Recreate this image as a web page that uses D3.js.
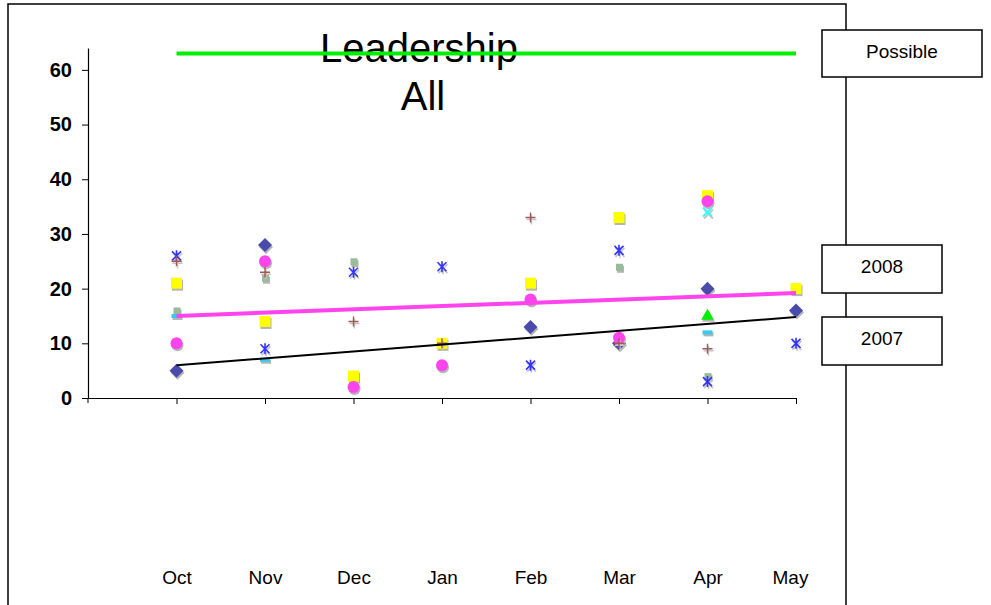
<!DOCTYPE html>
<html>
<head>
<meta charset="utf-8">
<script src="https://cdn.jsdelivr.net/npm/d3@7"></script>
<style>
  body { margin: 0; background: #fff; }
  text { font-family: "Liberation Sans", Arial, sans-serif; }
</style>
</head>
<body>
<svg id="chart" width="991" height="605"></svg>
<script>
// data
let months = ['Oct', 'Nov', 'Dec', 'Jan', 'Feb', 'Mar', 'Apr', 'May'];
let yTicks = [0, 10, 20, 30, 40, 50, 60];
let diamondVals = [5, 28, null, null, 13, 10, 20, 16];
let circleVals = [10, 25, 2, 6, 18, 11, 36, null];
let squareVals = [21, 14, 4, 10, 21, 33, 37, 20];
let crossVals = [null, null, null, null, null, null, 34, null];
let starVals = [26, 9, 23, 24, 6, 27, 3, 10];
let plusVals = [25, 23, 14, 10, 33, 10, 9, null];
let smallSquareVals = [16, 22, 25, null, null, 24, 4, null];
let dashVals = [15, 7, null, null, null, null, 12, null];
let triangleVals = [null, null, null, null, null, null, 15, null];
let possibleVal = 63;
let trend2008 = [15, 19.2];   // Oct -> May
let trend2007 = [6, 14.8];
let legendNames = ['Possible', '2008', '2007'];

let svg = d3.select('#chart');

let x = d3.scaleLinear().domain([0, months.length]).range([88, 796]);
let y = d3.scaleLinear().domain([0, 64]).range([398, 48]);

// outer frame
svg.append('rect')
    .attr('x', 8).attr('y', 4)
    .attr('width', 838).attr('height', 640)
    .attr('fill', 'none').attr('stroke', '#000').attr('stroke-width', 1.5);

// y axis
let yAxis = d3.axisLeft(y).tickValues(yTicks).tickSize(6).tickSizeOuter(0).tickPadding(10);
let yG = svg.append('g').attr('transform', 'translate(88,0)').call(yAxis);
yG.selectAll('text').style('font-size', '20px').style('font-weight', 'bold').attr('fill', '#000');
yG.append('line').attr('x1', 0).attr('x2', 0).attr('y1', y(0)).attr('y2', y(0) + 5).attr('stroke', '#000');

// x axis (ticks only)
let xAxis = d3.axisBottom(x).tickValues(d3.range(1, months.length + 1)).tickSize(6).tickSizeOuter(0).tickFormat('');
svg.append('g').attr('transform', `translate(0,${y(0)})`).call(xAxis);

// month labels sit at the bottom of the frame
let labelAxis = d3.axisBottom(x).tickValues(d3.range(1, months.length + 1))
    .tickSize(0).tickFormat(d => months[d - 1]);
let lG = svg.append('g').attr('transform', 'translate(0,567)').call(labelAxis);
lG.select('.domain').remove();
lG.selectAll('text').style('font-size', '19px').attr('fill', '#000')
    .attr('dx', d => d === months.length ? -6 : 0);

svg.selectAll('.domain').attr('stroke', '#000').attr('stroke-width', 1.2);

// title
svg.append('text').attr('x', 419).attr('y', 62).attr('text-anchor', 'middle')
    .style('font-size', '40px').text('Leadership');
svg.append('text').attr('x', 423).attr('y', 110).attr('text-anchor', 'middle')
    .style('font-size', '40px').text('All');

// lines: possible + trends
let line = d3.line().x(d => x(d[0])).y(d => y(d[1]));
svg.append('path').datum([[1, possibleVal], [months.length, possibleVal]])
    .attr('d', line).attr('stroke', '#00ee00').attr('stroke-width', 4).attr('fill', 'none');

// markers
let sym = (type, size) => d3.symbol().type(type).size(size)();
let series = [
    {vals: smallSquareVals, draw: (g) => g.append('rect').attr('x', -3).attr('y', -3).attr('width', 7).attr('height', 7).attr('fill', '#99bb99')},
    {vals: dashVals, draw: (g) => g.append('rect').attr('x', -5).attr('y', -2).attr('width', 10).attr('height', 4).attr('fill', '#33ccee')},
    {vals: triangleVals, draw: (g) => g.append('path').attr('d', sym(d3.symbolTriangle, 70)).attr('fill', '#00ee00')},
    {vals: squareVals, draw: (g) => g.append('rect').attr('x', -5.5).attr('y', -5.5).attr('width', 11).attr('height', 11).attr('fill', '#ffff00')},
    {vals: diamondVals, draw: (g) => g.append('path').attr('d', 'M0,-7L7,0L0,7L-7,0Z').attr('fill', '#4a4aaa')},
    {vals: circleVals, draw: (g) => g.append('circle').attr('r', 6).attr('fill', '#ff44ee')},
    {vals: crossVals, draw: (g) => g.append('path').attr('d', 'M-4.5,-4.5L4.5,4.5M-4.5,4.5L4.5,-4.5').attr('stroke', '#33ffff').attr('stroke-width', 2)},
    {vals: starVals, draw: (g) => g.append('path').attr('d', 'M-4.5,-4.5L4.5,4.5M-4.5,4.5L4.5,-4.5M0,-5.5L0,5.5').attr('stroke', '#3333ff').attr('stroke-width', 1.6)},
    {vals: plusVals, draw: (g) => g.append('path').attr('d', 'M-5,0L5,0M0,-5L0,5').attr('stroke', '#a05858').attr('stroke-width', 1.4)}
];

series.forEach(s => {
    let pts = s.vals.map((v, i) => ({i: i + 1, v: v})).filter(d => d.v !== null);
    // drop shadow
    svg.append('g').selectAll('g').data(pts).enter().append('g')
        .attr('transform', d => `translate(${x(d.i) + 1},${y(d.v) + 2})`)
        .each(function () {
            let m = s.draw(d3.select(this));
            if (m.attr('fill')) m.attr('fill', '#b4b4b4');
            if (m.attr('stroke')) m.attr('stroke', '#c4c4c4');
        });
    svg.append('g').selectAll('g').data(pts).enter().append('g')
        .attr('transform', d => `translate(${x(d.i)},${y(d.v)})`)
        .each(function () { s.draw(d3.select(this)); });
});

svg.append('path').datum([[1, trend2008[0]], [months.length, trend2008[1]]])
    .attr('d', line).attr('stroke', '#ff44ee').attr('stroke-width', 4).attr('fill', 'none');
svg.append('path').datum([[1, trend2007[0]], [months.length, trend2007[1]]])
    .attr('d', line).attr('stroke', '#000').attr('stroke-width', 2).attr('fill', 'none');

// legend boxes on the right edge
let legendBoxes = [
    {x: 822, y: 30, w: 160, h: 47},
    {x: 822, y: 245, w: 120, h: 48},
    {x: 822, y: 317, w: 120, h: 48}
];
let lg = svg.selectAll('.legend').data(legendNames).enter().append('g').attr('class', 'legend');
lg.append('rect')
    .attr('x', (d, i) => legendBoxes[i].x).attr('y', (d, i) => legendBoxes[i].y)
    .attr('width', (d, i) => legendBoxes[i].w).attr('height', (d, i) => legendBoxes[i].h)
    .attr('fill', '#fff').attr('stroke', '#000').attr('stroke-width', 1.5);
lg.append('text')
    .attr('x', (d, i) => legendBoxes[i].x + legendBoxes[i].w / 2)
    .attr('y', (d, i) => legendBoxes[i].y + legendBoxes[i].h / 2 + 4)
    .attr('text-anchor', 'middle').style('font-size', '19px').text(d => d);
</script>
</body>
</html>
